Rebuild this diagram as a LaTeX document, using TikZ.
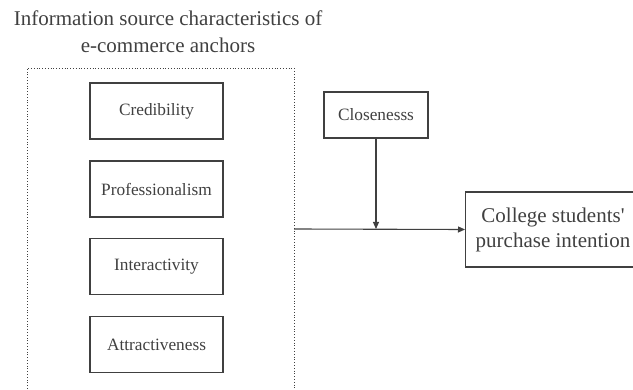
\documentclass[tikz,border=0pt]{standalone}
\usepackage{fontspec}
\setmainfont{Liberation Serif}
\usetikzlibrary{arrows.meta}
\definecolor{ink}{HTML}{404040}
\begin{document}
\begin{tikzpicture}[x=1pt,y=-1pt,
  box/.style={draw=ink,line width=1.1pt,text=ink,inner sep=0pt,font=\fontsize{17.3}{20}\selectfont},
  conn/.style={draw=ink,line width=1.1pt,-{Triangle[length=7pt,width=6pt]}}]
\useasboundingbox (0,0) rectangle (633,390);
\begin{scope}
\clip (0,0) rectangle (633,390);
\node[text=ink,align=center,font=\fontsize{21}{27}\selectfont] (title) at (168,31.5) {Information source characteristics of\\e-commerce anchors};
\draw[ink,line width=0.8pt,dotted] (27,400) -- (27,68) -- (294,68) -- (294,400);
\coordinate (grp) at (294,229);
\node[box,minimum width=133pt,minimum height=56pt] (cred) at (156.5,111) {Credibility};
\node[box,minimum width=133pt,minimum height=56pt] (prof) at (156.5,189) {Professionalism};
\node[box,minimum width=133pt,minimum height=56pt] (inter) at (156.5,266.5) {Interactivity};
\node[box,minimum width=133pt,minimum height=56pt] (attr) at (156.5,344.5) {Attractiveness};
\node[box,minimum width=104pt,minimum height=46pt] (close) at (376,115) {Closenesss};
\node[box,minimum width=190pt,minimum height=75pt,anchor=west] (purch) at (465,229.5) {};
\node[text=ink,align=center,font=\fontsize{21}{25}\selectfont] (ptext) at (553,229.5) {College students\textquotesingle\\purchase intention};
\coordinate (mid) at (376,229);
\draw[conn] (grp) -- (purch.west);
\draw[conn] (close.south) -- (mid);
\end{scope}
\end{tikzpicture}
\end{document}
